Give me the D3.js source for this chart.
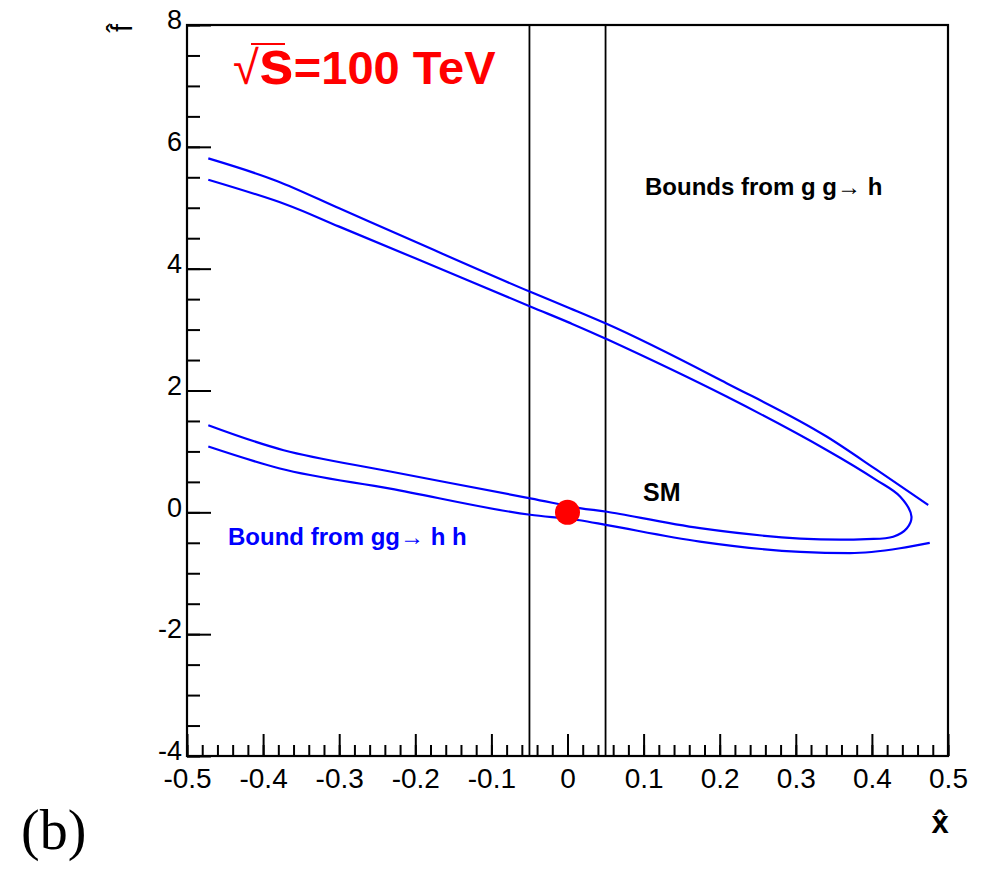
<!DOCTYPE html>
<html>
<head>
<meta charset="utf-8">
<script src="https://cdn.jsdelivr.net/npm/d3@7"></script>
<style>
  body { margin: 0; background: #fff; }
  text { font-family: "Liberation Sans", Arial, sans-serif; }
</style>
</head>
<body>
<svg width="981" height="869"></svg>
<script>
// upper gg->h bound (outer line)
const boundA_x = [-0.472, -0.382, -0.3, -0.2, -0.049, 0.003, 0.052, 0.209, 0.341, 0.406, 0.474];
const boundA_y = [5.81, 5.44, 4.99, 4.44, 3.62, 3.35, 3.09, 2.12, 1.24, 0.70, 0.12];
// inner contour: gg->h lower line joined with gg->hh upper line
const contourB_x = [-0.472, -0.369, -0.3, -0.2, -0.049, 0.003, 0.052, 0.209, 0.341, 0.406, 0.437, 0.452, 0.446, 0.428, 0.393, 0.306, 0.174, 0.052, 0.016, -0.049, -0.233, -0.373, -0.472];
const contourB_y = [5.46, 5.05, 4.69, 4.17, 3.38, 3.11, 2.84, 1.90, 1.02, 0.53, 0.26, -0.07, -0.26, -0.40, -0.44, -0.43, -0.26, 0.01, 0.07, 0.23, 0.67, 1.02, 1.43];
// gg->hh lower line
const boundD_x = [-0.472, -0.378, -0.233, -0.049, 0.016, 0.052, 0.174, 0.306, 0.371, 0.437, 0.476];
const boundD_y = [1.08, 0.72, 0.39, -0.04, -0.13, -0.21, -0.48, -0.65, -0.67, -0.59, -0.50];

const vlines = [-0.05, 0.05];
const smPoint = [0, 0];
const xTicks = [-0.5, -0.4, -0.3, -0.2, -0.1, 0, 0.1, 0.2, 0.3, 0.4, 0.5];
const yTicks = [-4, -2, 0, 2, 4, 6, 8];

const drawChart = () => {
    const margin = { top: 25, right: 33, bottom: 113, left: 187 };
    const width = 981, height = 869;

    const x = d3.scaleLinear().domain([-0.5, 0.5]).range([margin.left, width - margin.right]);
    const y = d3.scaleLinear().domain([-4, 8]).range([height - margin.bottom, margin.top]);

    const svg = d3.select("svg");
    const fmt = d => String(+d.toFixed(1));

    // minor ticks
    svg.append("g")
        .attr("transform", `translate(0,${y(-4)})`)
        .call(d3.axisBottom(x)
            .tickValues(d3.range(-25, 26).map(i => i * 0.02))
            .tickSize(-11).tickFormat(""))
        .call(g => g.select(".domain").remove());
    svg.append("g")
        .attr("transform", `translate(${x(-0.5)},0)`)
        .call(d3.axisLeft(y)
            .tickValues(d3.range(-8, 17).map(i => i * 0.5))
            .tickSize(-13).tickFormat(""))
        .call(g => g.select(".domain").remove());

    // major ticks + labels
    svg.append("g")
        .attr("transform", `translate(0,${y(-4)})`)
        .call(d3.axisBottom(x).tickValues(xTicks).tickSize(-22).tickPadding(12).tickFormat(fmt))
        .call(g => g.select(".domain").remove())
        .call(g => g.selectAll("text").attr("font-size", 28).attr("fill", "#000")
            .style("font-family", "'Liberation Sans', Arial, sans-serif"));
    svg.append("g")
        .attr("transform", `translate(${x(-0.5)},0)`)
        .call(d3.axisLeft(y).tickValues(yTicks).tickSize(-24).tickPadding(5).tickFormat(fmt))
        .call(g => g.select(".domain").remove())
        .call(g => g.selectAll("text").attr("font-size", 27).attr("fill", "#000").attr("dy", "0.14em")
            .style("font-family", "'Liberation Sans', Arial, sans-serif"));

    svg.selectAll(".tick line").attr("stroke", "#000").attr("stroke-width", 2);

    // frame
    svg.append("rect")
        .attr("x", x(-0.5)).attr("y", y(8))
        .attr("width", x(0.5) - x(-0.5)).attr("height", y(-4) - y(8))
        .attr("fill", "none").attr("stroke", "#000").attr("stroke-width", 2.2);

    svg.selectAll(".vline")
        .data(vlines)
        .enter()
        .append("line")
        .attr("x1", d => x(d)).attr("x2", d => x(d))
        .attr("y1", y(8)).attr("y2", y(-4))
        .attr("stroke", "#000").attr("stroke-width", 1.8);

    const lineMono = d3.line()
        .x(d => x(d[0])).y(d => y(d[1]))
        .curve(d3.curveMonotoneX);
    const lineLoop = d3.line()
        .x(d => x(d[0])).y(d => y(d[1]))
        .curve(d3.curveCatmullRom.alpha(0.5));

    const curves = [
        { pts: d3.zip(boundA_x, boundA_y), gen: lineMono },
        { pts: d3.zip(contourB_x, contourB_y), gen: lineLoop },
        { pts: d3.zip(boundD_x, boundD_y), gen: lineMono }
    ];
    svg.append("g")
        .selectAll("path")
        .data(curves)
        .enter()
        .append("path")
        .attr("d", d => d.gen(d.pts))
        .attr("fill", "none")
        .attr("stroke", "#0000ff")
        .attr("stroke-width", 2.2);

    svg.append("circle")
        .attr("cx", x(smPoint[0])).attr("cy", y(smPoint[1]))
        .attr("r", 12.5).attr("fill", "#ff0000");

    // labels
    svg.append("text")
        .attr("x", 645).attr("y", 195)
        .attr("font-size", 24).attr("font-weight", "bold")
        .text("Bounds from g g\u2192 h");
    svg.append("text")
        .attr("x", 643).attr("y", 501)
        .attr("font-size", 25).attr("font-weight", "bold")
        .text("SM");
    svg.append("text")
        .attr("x", 228).attr("y", 545)
        .attr("font-size", 24).attr("font-weight", "bold").attr("fill", "#0000ff")
        .text("Bound from gg\u2192 h h");

    const title = svg.append("text")
        .attr("x", 233).attr("y", 84)
        .attr("font-size", 47).attr("font-weight", "bold").attr("fill", "#ff0000");
    title.append("tspan").attr("font-weight", "normal").text("\u221A");
    title.append("tspan").attr("font-size", 63).text("s");
    title.append("tspan").text("=100 TeV");
    svg.append("line")
        .attr("x1", 251).attr("x2", 285).attr("y1", 44).attr("y2", 44)
        .attr("stroke", "#ff0000").attr("stroke-width", 2);

    svg.append("text")
        .attr("x", 940).attr("y", 833)
        .attr("text-anchor", "middle")
        .attr("font-size", 31).attr("font-weight", "bold")
        .text("x\u0302");
    svg.append("text")
        .attr("transform", "translate(132,24) rotate(-90)")
        .attr("text-anchor", "end")
        .attr("font-size", 29)
        .text("f\u0302");

    svg.append("text")
        .attr("x", 21).attr("y", 849)
        .attr("font-size", 56)
        .style("font-family", "'Liberation Serif', 'Times New Roman', serif")
        .text("(b)");
}
drawChart();
</script>
</body>
</html>
